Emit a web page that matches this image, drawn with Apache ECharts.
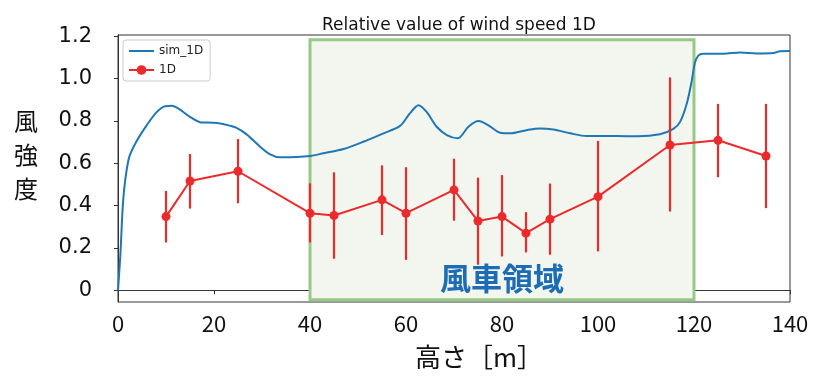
<!DOCTYPE html>
<html>
<head>
<meta charset="utf-8">
<script src="https://cdn.jsdelivr.net/npm/echarts@6/dist/echarts.min.js"></script>
<style>html,body{margin:0;padding:0;background:#fff}#c{width:819px;height:376px}</style>
</head>
<body>
<div id="c"></div>
<script>
// Simulation curve (sim_1D)
const simX = [0, 0.5, 1.0, 1.5, 2.35, 3.9, 6, 8.1, 9.8, 11.2, 12.6, 15, 17.4, 19.9, 22.3, 24.7, 26.8, 29.6, 31.7, 33.75, 37.2, 40, 42.8, 47, 51.1, 55.3, 58.75, 60.8, 62.6, 64.3, 66.4, 68.5, 70.8, 73, 75.1, 77.1, 79.6, 81.7, 85.1, 87.9, 90.7, 94.2, 97.6, 103.9, 108.3, 112.9, 115.7, 117.1, 118.5, 119.5, 120.2, 120.9, 121.9, 126.1, 129.6, 133.1, 136.6, 137.9, 140];
const simY = [0, 0.17, 0.40, 0.52, 0.63, 0.705, 0.78, 0.842, 0.869, 0.871, 0.858, 0.819, 0.792, 0.791, 0.783, 0.767, 0.736, 0.678, 0.642, 0.628, 0.629, 0.634, 0.647, 0.667, 0.701, 0.741, 0.776, 0.835, 0.874, 0.842, 0.772, 0.733, 0.718, 0.772, 0.799, 0.780, 0.744, 0.741, 0.756, 0.764, 0.759, 0.741, 0.728, 0.728, 0.727, 0.737, 0.762, 0.795, 0.882, 0.985, 1.075, 1.108, 1.117, 1.117, 1.122, 1.118, 1.120, 1.128, 1.129];
// Measurements (1D) with error bars
const obsX = [10, 15, 25, 40, 45, 55, 60, 70, 75, 80, 85, 90, 100, 115, 125, 135];
const obsY = [0.348, 0.516, 0.562, 0.364, 0.353, 0.427, 0.364, 0.474, 0.327, 0.348, 0.270, 0.336, 0.442, 0.686, 0.708, 0.634];
const obsLow = [0.226, 0.386, 0.411, 0.226, 0.149, 0.261, 0.144, 0.329, 0.121, 0.160, 0.179, 0.168, 0.184, 0.372, 0.534, 0.388];
const obsHigh = [0.469, 0.643, 0.714, 0.505, 0.557, 0.590, 0.581, 0.621, 0.532, 0.544, 0.369, 0.504, 0.705, 1.005, 0.880, 0.880];
// Turbine region
const regionX = [40, 120];
const regionY = [-0.044, 1.183];
const yTicks = [0, 0.2, 0.4, 0.6, 0.8, 1.0, 1.2];
const titleText = 'Relative value of wind speed 1D';
const regionLabel = '風車領域';
const xName = '高さ［m］';
const yName = '風\n強\n度';

const RED = '#ec2a2c';
const BLUE = '#1f77b4';
const LINE_ICON = 'path://M0,0 L0.01,0 L0,0.01 Z M0,5.1 L25,5.1 L25,6.9 L0,6.9 Z M0,12 L0.01,12 L0,11.99 Z';
const chart = echarts.init(document.getElementById('c'), null, {renderer: 'canvas'});
const simData = simX.map((x, i) => [x, simY[i]]);
const obsData = obsX.map((x, i) => [x, obsY[i]]);
const errData = obsX.map((x, i) => [x, obsLow[i], obsHigh[i]]);
const areaCoords = [[{xAxis: regionX[0], yAxis: regionY[0]}, {xAxis: regionX[1], yAxis: regionY[1]}]];

chart.setOption({
  animation: false,
  title: {
    text: titleText, left: 454, top: 12, textAlign: 'center',
    textStyle: {fontFamily: 'DejaVu Sans', fontSize: 17, fontWeight: 'normal', color: '#111'}
  },
  grid: {left: 118, right: 29, top: 35, bottom: 74, show: true, borderColor: '#333', borderWidth: 1, backgroundColor: 'transparent'},
  legend: {
    orient: 'vertical', left: 123, top: 40, padding: [5, 7, 5, 5],
    borderColor: '#ccc', borderWidth: 1, borderRadius: 3, backgroundColor: '#fff',
    itemWidth: 25, itemHeight: 12, itemGap: 7,
    textStyle: {fontFamily: 'DejaVu Sans', fontSize: 12, color: '#222'},
    data: [{name: 'sim_1D', icon: LINE_ICON, itemStyle: {color: BLUE}}, {name: '1D'}]
  },
  xAxis: {
    type: 'value', min: 0, max: 140, interval: 20,
    name: xName, nameLocation: 'middle', nameGap: 42,
    nameTextStyle: {fontFamily: 'Noto Sans CJK JP', fontSize: 26, color: '#111', padding: [0, 0, 0, 50]},
    axisLine: {show: true, lineStyle: {color: '#333', width: 1}},
    axisTick: {show: true, length: 4, lineStyle: {color: '#333'}},
    axisLabel: {fontFamily: 'Noto Sans CJK JP', fontSize: 22, color: '#111', margin: 11},
    splitLine: {show: false}
  },
  yAxis: {
    type: 'value', min: -0.055, max: 1.205,
    axisLine: {show: true, lineStyle: {color: '#333', width: 1}},
    axisTick: {show: true, length: 4, lineStyle: {color: '#333'}, customValues: yTicks},
    axisLabel: {
      fontFamily: 'DejaVu Sans', fontSize: 21, color: '#111', margin: 26,
      customValues: yTicks,
      formatter: v => (Math.abs(v) < 1e-9 ? '0' : v.toFixed(1))
    },
    splitLine: {show: false}
  },
  graphic: [
    {type: 'text', left: 14, top: 104, z: 100,
      style: {text: yName, fontFamily: 'Noto Sans CJK JP', fontSize: 24, lineHeight: 34, fill: '#111'}}
  ],
  series: [
    {
      name: 'region', type: 'line', data: [], z: 1, silent: true,
      markArea: {silent: true, itemStyle: {color: '#f3f5ef', borderWidth: 0}, data: areaCoords}
    },
    {
      name: 'sim_1D', type: 'line', data: simData, showSymbol: false, symbol: 'none',
      smooth: 0.3, lineStyle: {color: BLUE, width: 2}, itemStyle: {color: BLUE}, z: 3
    },
    {
      name: 'errbars', type: 'custom', data: errData, z: 4, silent: true,
      encode: {x: 0, y: [1, 2]},
      renderItem: function (params, api) {
        const p1 = api.coord([api.value(0), api.value(1)]);
        const p2 = api.coord([api.value(0), api.value(2)]);
        return {type: 'line', shape: {x1: p1[0], y1: p1[1], x2: p2[0], y2: p2[1]},
          style: {stroke: RED, lineWidth: 2.2}};
      }
    },
    {
      name: '1D', type: 'line', data: obsData, symbol: 'circle', symbolSize: 9,
      lineStyle: {color: RED, width: 2}, itemStyle: {color: RED}, z: 5
    },
    {
      name: 'regionBorder', type: 'line', data: [], z: 8, silent: true,
      markArea: {silent: true, itemStyle: {color: 'rgba(0,0,0,0)', borderColor: '#97c986', borderWidth: 3},
        label: {show: true, position: 'insideBottom', distance: 7, formatter: regionLabel,
          fontFamily: 'Noto Sans CJK JP', fontWeight: 'bold', fontSize: 31, color: '#1c6db5'},
        data: areaCoords}
    }
  ]
});
</script>
</body>
</html>
